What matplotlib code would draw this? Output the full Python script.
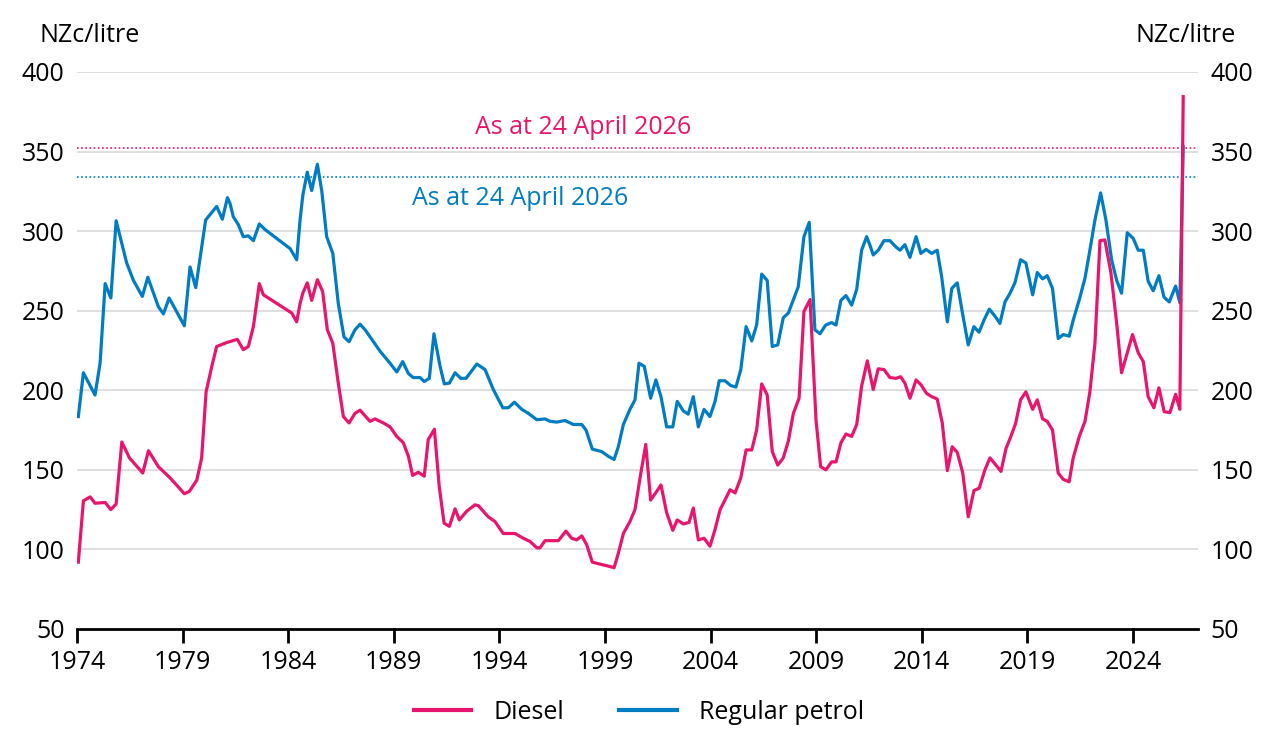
import matplotlib.pyplot as plt
from matplotlib.lines import Line2D

plt.rcParams['font.family'] = ['Open Sans', 'DejaVu Sans']

# Regular petrol, NZc/litre
petrol_year = [
    1974.06, 1974.30, 1974.85, 1975.09, 1975.33, 1975.60, 1975.85, 1976.35, 1976.67, 1977.09,
    1977.35, 1977.85, 1978.09, 1978.36, 1979.08, 1979.35, 1979.62, 1980.09, 1980.61, 1980.88,
    1981.12, 1981.24, 1981.40, 1981.64, 1981.87, 1982.11, 1982.35, 1982.63, 1982.90, 1984.09,
    1984.40, 1984.56, 1984.69, 1984.90, 1985.11, 1985.38, 1985.59, 1985.82, 1986.11, 1986.37,
    1986.64, 1986.88, 1987.16, 1987.40, 1987.64, 1988.35, 1988.82, 1989.14, 1989.42, 1989.69,
    1989.92, 1990.24, 1990.44, 1990.68, 1990.90, 1991.19, 1991.39, 1991.63, 1991.90, 1992.17,
    1992.42, 1992.93, 1993.32, 1993.71, 1994.16, 1994.42, 1994.71, 1995.06, 1995.37, 1995.77,
    1996.16, 1996.40, 1996.71, 1997.11, 1997.50, 1997.90, 1998.10, 1998.40, 1998.84, 1999.16,
    1999.43, 1999.63, 1999.87, 2000.18, 2000.42, 2000.61, 2000.86, 2001.16, 2001.41, 2001.65,
    2001.92, 2002.21, 2002.42, 2002.71, 2002.94, 2003.18, 2003.42, 2003.69, 2003.97, 2004.21,
    2004.41, 2004.68, 2004.95, 2005.20, 2005.43, 2005.68, 2005.95, 2006.18, 2006.42, 2006.68,
    2006.92, 2007.18, 2007.44, 2007.68, 2007.92, 2008.15, 2008.42, 2008.67, 2008.94, 2009.18,
    2009.45, 2009.73, 2009.94, 2010.17, 2010.41, 2010.68, 2010.92, 2011.15, 2011.39, 2011.55,
    2011.70, 2011.94, 2012.21, 2012.49, 2012.78, 2012.97, 2013.20, 2013.44, 2013.73, 2013.96,
    2014.20, 2014.47, 2014.73, 2014.94, 2015.21, 2015.42, 2015.68, 2015.94, 2016.20, 2016.47,
    2016.71, 2016.96, 2017.20, 2017.47, 2017.70, 2017.94, 2018.18, 2018.41, 2018.68, 2018.93,
    2019.25, 2019.47, 2019.72, 2019.94, 2020.19, 2020.46, 2020.70, 2020.98, 2021.17, 2021.46,
    2021.73, 2021.96, 2022.20, 2022.47, 2022.72, 2022.99, 2023.23, 2023.46, 2023.73, 2024.01,
    2024.25, 2024.49, 2024.72, 2024.96, 2025.23, 2025.47, 2025.72, 2026.02, 2026.22, 2026.38,
]
petrol_price = [
    183.5, 211, 197, 217, 267, 258, 306.5, 280, 269, 259,
    271, 252.5, 248, 258, 240.5, 277.5, 264.5, 307, 315.5, 307.5,
    321, 317.5, 309, 304, 296.5, 297, 294, 304.5, 301, 289,
    282, 307, 322.5, 337, 325.5, 342, 325, 296.5, 286, 254.5,
    233.5, 230.5, 238, 241.5, 238, 224.5, 217, 211.5, 218, 210.5,
    208, 208, 205.5, 207.5, 235.5, 215, 204, 204.5, 211, 207.5,
    207.5, 216.5, 213, 200.5, 189, 189, 192.5, 188, 185.5, 181.5,
    182, 180.5, 180, 181, 178.5, 178.5, 175, 163, 161.5, 158.5,
    156.5, 164.5, 178.5, 188, 194, 217, 215, 195, 206.5, 196,
    177, 177, 193, 187, 185, 196, 177, 188, 183.5, 193,
    206, 206, 203, 202, 213, 240, 231, 241, 273, 269,
    227.5, 228.5, 245.5, 248.5, 257, 265, 296.5, 305.5, 238, 235.5,
    241, 242.5, 241, 256.5, 259.5, 253.5, 263.5, 288, 296.5, 291,
    285, 288, 294, 294, 290, 288, 291.5, 283.5, 296.5, 286,
    288.5, 286, 288, 271.5, 243, 264, 267.5, 247.5, 228.5, 240,
    236.5, 244.5, 251, 246.5, 242, 255.5, 261, 267.5, 282, 280,
    260, 274, 270, 272, 264, 232.5, 235, 234, 244, 257,
    270.5, 288, 307, 324, 307, 282, 269, 261, 299, 295.5,
    288, 288, 268.5, 262.5, 272, 258.5, 255.5, 265.5, 255, 353,
]

# Diesel, NZc/litre
diesel_year = [
    1974.06, 1974.30, 1974.62, 1974.85, 1975.33, 1975.60, 1975.85, 1976.12, 1976.48, 1977.11,
    1977.38, 1977.85, 1978.40, 1979.08, 1979.32, 1979.67, 1979.90, 1980.11, 1980.38, 1980.61,
    1981.09, 1981.59, 1981.87, 1982.11, 1982.35, 1982.63, 1982.82, 1984.17, 1984.40, 1984.56,
    1984.69, 1984.90, 1985.11, 1985.38, 1985.63, 1985.85, 1986.11, 1986.37, 1986.61, 1986.88,
    1987.16, 1987.40, 1987.87, 1988.11, 1988.50, 1988.82, 1989.14, 1989.45, 1989.69, 1989.89,
    1990.16, 1990.44, 1990.63, 1990.92, 1991.15, 1991.38, 1991.63, 1991.90, 1992.10, 1992.45,
    1992.84, 1993.00, 1993.47, 1993.79, 1994.18, 1994.74, 1995.13, 1995.45, 1995.77, 1995.92,
    1996.16, 1996.79, 1997.15, 1997.42, 1997.66, 1997.90, 1998.13, 1998.40, 1998.84, 1999.16,
    1999.43, 1999.63, 1999.87, 2000.18, 2000.42, 2000.66, 2000.93, 2001.16, 2001.45, 2001.65,
    2001.92, 2002.21, 2002.42, 2002.71, 2002.98, 2003.18, 2003.42, 2003.69, 2003.97, 2004.21,
    2004.45, 2004.68, 2004.92, 2005.16, 2005.43, 2005.68, 2005.95, 2006.18, 2006.42, 2006.68,
    2006.92, 2007.18, 2007.44, 2007.68, 2007.92, 2008.19, 2008.42, 2008.71, 2008.99, 2009.21,
    2009.46, 2009.73, 2009.94, 2010.17, 2010.41, 2010.68, 2010.92, 2011.15, 2011.42, 2011.70,
    2011.94, 2012.21, 2012.49, 2012.78, 2013.00, 2013.20, 2013.44, 2013.73, 2013.96, 2014.23,
    2014.47, 2014.73, 2014.97, 2015.21, 2015.44, 2015.68, 2015.94, 2016.20, 2016.47, 2016.72,
    2016.99, 2017.23, 2017.51, 2017.75, 2017.99, 2018.22, 2018.44, 2018.68, 2018.93, 2019.25,
    2019.47, 2019.72, 2019.94, 2020.19, 2020.46, 2020.70, 2020.98, 2021.17, 2021.46, 2021.73,
    2021.96, 2022.20, 2022.44, 2022.67, 2022.96, 2023.23, 2023.46, 2023.73, 2023.98, 2024.25,
    2024.49, 2024.72, 2024.99, 2025.23, 2025.48, 2025.75, 2026.02, 2026.22, 2026.38,
]
diesel_price = [
    92, 130.5, 133, 129, 129.5, 125, 128.5, 167.5, 157.5, 148,
    162, 152, 145, 135, 136.5, 143.5, 157.5, 199, 215, 227.5,
    230, 232, 225.5, 227.5, 240, 267, 260, 248.5, 243, 254.5,
    261, 267.5, 256.5, 269.5, 262, 238, 229.5, 204.5, 183.5, 179.5,
    185.5, 187.5, 180.5, 182, 179.5, 177, 171, 167, 158.5, 146.5,
    148.5, 146, 169, 175.5, 139.5, 116.5, 114.5, 125.5, 118.5, 124,
    128, 127.5, 120.5, 117.5, 110, 110, 107, 105, 101, 101,
    105.5, 105.5, 111.5, 107, 106, 108.5, 103, 92, 90.5, 89.5,
    88.5, 97.5, 110, 117.5, 125, 145, 166, 131, 136.5, 140.5,
    123, 112, 118.5, 116, 117, 126, 106, 107, 102, 112.5,
    125, 131, 137.5, 135.5, 145, 162.5, 162.5, 175, 204, 197,
    161.5, 153, 157.5, 168, 185.5, 195, 249.5, 257, 181.5, 152,
    150, 155, 155, 167, 172.5, 171, 178.5, 202.5, 218.5, 200.5,
    213.5, 213, 208, 207.5, 208.5, 204.5, 195, 206.5, 203.5, 198,
    196, 194.5, 179.5, 149.5, 164.5, 161, 148, 120.5, 137, 138.5,
    150, 157.5, 153, 149, 163.5, 171, 179, 194, 199, 188,
    194, 182, 180.5, 175, 148, 144, 142.5, 157.5, 171, 180.5,
    199, 229.5, 294, 294.5, 273.5, 242, 211, 223.5, 235, 223.5,
    218, 196, 189, 201.5, 186.5, 186, 197.5, 188, 384.5,
]

diesel_latest = 352.5
petrol_latest = 334
label_text = 'As at 24 April 2026'
x_ticks = [1974, 1979, 1984, 1989, 1994, 1999, 2004, 2009, 2014, 2019, 2024]
y_ticks = [50, 100, 150, 200, 250, 300, 350, 400]

pink = '#E8156C'
blue = '#007CC3'
fs = 18

fig = plt.figure(figsize=(12.78, 7.42), dpi=100)
ax = fig.add_axes([0.0603, 0.1523, 0.8771, 0.7507])

ax.axhline(diesel_latest, color=pink, lw=1.2, ls=(0, (1, 1.5)), zorder=2)
ax.axhline(petrol_latest, color=blue, lw=1.2, ls=(0, (1, 1.5)), zorder=2)
ax.plot(petrol_year, petrol_price, color=blue, lw=2.3, zorder=3, solid_joinstyle='round')
ax.plot(diesel_year, diesel_price, color=pink, lw=2.3, zorder=4, solid_joinstyle='round')

ax.text(1997.96, 364.8, label_text, color=pink, fontsize=fs, ha='center', va='center')
ax.text(1994.98, 320.2, label_text, color=blue, fontsize=fs, ha='center', va='center')

ax.set_xlim(1974, 2027.08)
ax.set_ylim(50, 400)
ax.set_xticks(x_ticks)
ax.set_yticks(y_ticks)
ax.grid(axis='y', color='#DCDCDC', lw=1.3, zorder=0)
for s in ['left', 'right', 'top']:
    ax.spines[s].set_visible(False)
ax.spines['bottom'].set_linewidth(2)
ax.spines['bottom'].set_zorder(5)
ax.tick_params(axis='x', length=10, width=2, labelsize=fs, pad=5, color='black')
ax.tick_params(axis='y', length=0, labelsize=fs, pad=9, labelright=True)

fig.text(0.031, 0.952, 'NZc/litre', fontsize=fs, ha='left', va='center')
fig.text(0.967, 0.952, 'NZc/litre', fontsize=fs, ha='right', va='center')

handles = [Line2D([], [], color=pink, lw=3), Line2D([], [], color=blue, lw=3)]
fig.legend(handles, ['Diesel', 'Regular petrol'], loc='center', bbox_to_anchor=(0.5, 0.04),
           ncol=2, frameon=False, fontsize=fs, handlelength=2.3, columnspacing=2.2, handletextpad=0.9)

fig.savefig('out.png', dpi=100)
